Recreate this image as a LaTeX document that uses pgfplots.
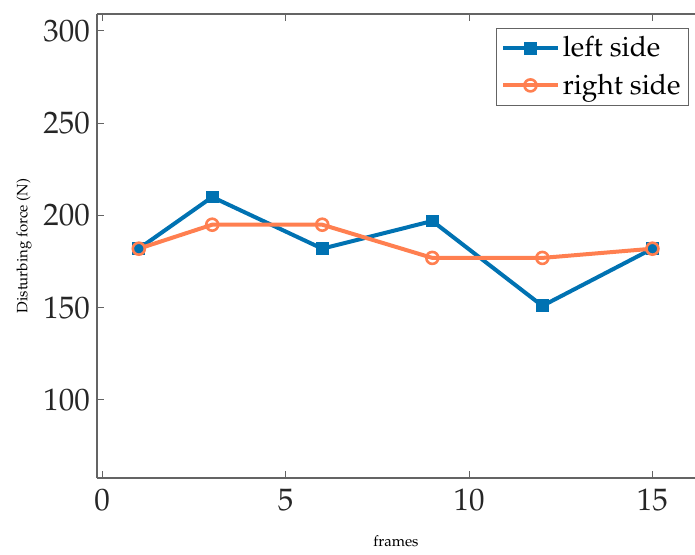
\documentclass[border=0pt]{standalone}
\usepackage[T1]{fontenc}
\usepackage{mathpazo}
\usepackage{pgfplots}
\pgfplotsset{compat=1.18}
\definecolor{lblue}{RGB}{0,114,178}
\definecolor{rorange}{RGB}{255,127,80}
\definecolor{axgrey}{RGB}{100,100,100}
\begin{document}
\begin{tikzpicture}
\begin{axis}[
  scale only axis, width=299pt, height=232pt,
  xmin=-0.14, xmax=16.16, ymin=57.7, ymax=309.2,
  axis x line*=box, axis y line*=left,
  axis line style={axgrey, line width=0.6pt},
  tick style={axgrey, line width=0.5pt},
  tick align=inside, major tick length=3.5pt,
  xtick={0,5,10,15}, ytick={100,150,200,250,300},
  ticklabel style={font=\fontsize{15.5}{18}\selectfont, text=black!85},
  xticklabel style={yshift=-2pt},
  xlabel={frames}, ylabel={Disturbing force (N)},
  xlabel style={font=\fontsize{7.5}{9}\selectfont, at={(axis description cs:0.5,0)}, anchor=center, yshift=-31.5pt},
  ylabel style={font=\fontsize{7.5}{9}\selectfont, at={(axis description cs:0,0.5)}, anchor=center, yshift=36.5pt},
  legend style={at={(axis description cs:1,1)}, anchor=north east, xshift=-3pt, yshift=-7pt,
    font=\fontsize{14}{16}\selectfont, draw=axgrey, line width=0.5pt, row sep=4pt, inner sep=2.5pt,
    nodes={inner sep=1.5pt}},
  legend cell align=left,
  legend image code/.code={\draw[mark repeat=2,mark phase=2] plot coordinates {(0cm,0cm)(0.48cm,0cm)(0.96cm,0cm)};},
]
\addplot[lblue, line width=2pt, mark=square*, mark size=2.2pt, mark options={solid}]
  coordinates {(1,182) (3,210) (6,182) (9,197) (12,151) (15,182)};
\addlegendentry{left side}
\addplot[rorange, line width=2pt, mark=o, mark size=3pt, mark options={solid, line width=1.3pt}]
  coordinates {(1,182) (3,195) (6,195) (9,177) (12,177) (15,182)};
\addlegendentry{right side}
\end{axis}
\pgfresetboundingbox
\path ([shift={(-48.5pt,-38pt)}]current axis.south west) rectangle ([shift={(0pt,7pt)}]current axis.north east);
\end{tikzpicture}
\end{document}
